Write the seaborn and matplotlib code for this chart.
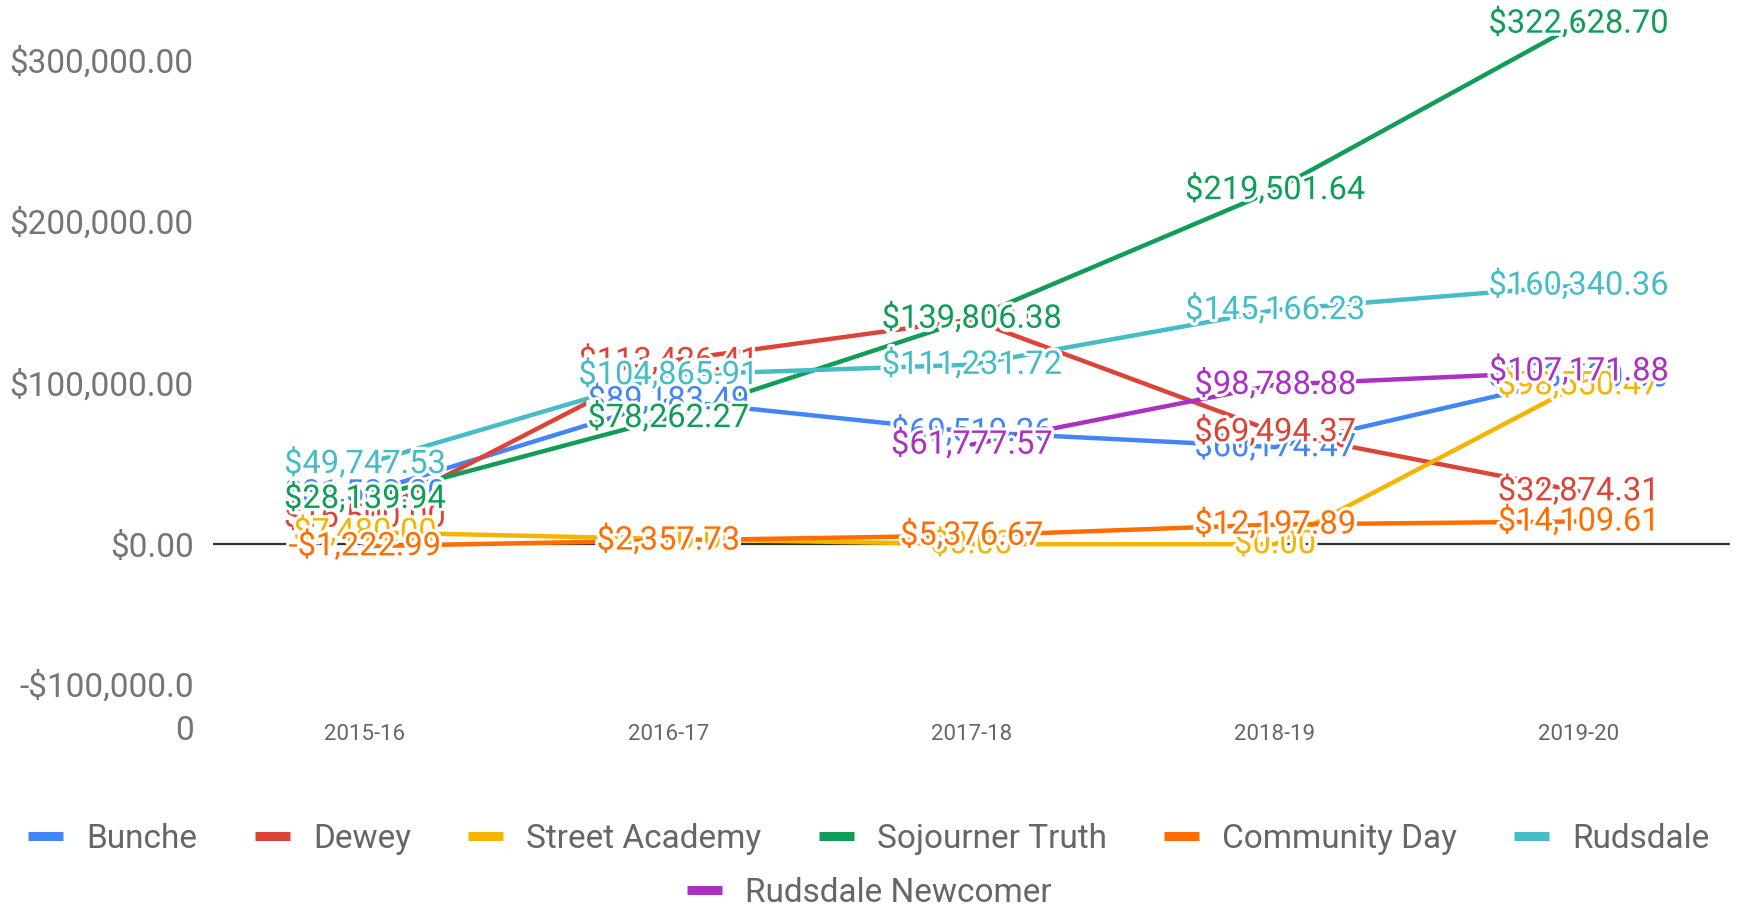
import matplotlib
matplotlib.use("Agg")
import matplotlib.pyplot as plt
import matplotlib.patheffects as pe
import matplotlib.transforms as mtransforms
from matplotlib.lines import Line2D
import numpy as np
import pandas as pd
import seaborn as sns

sns.set_theme(style="white")
plt.rcParams["font.family"] = ["Roboto", "DejaVu Sans"]

# chart data
years = ["2015-16", "2016-17", "2017-18", "2018-19", "2019-20"]
bunche = [31500.00, 89183.49, 69519.26, 60174.47, 103500.00]
dewey = [16500.00, 113426.41, 139200.00, 69494.37, 32874.31]
street_academy = [7480.00, 3200.00, 0.00, 0.00, 98550.47]
sojourner_truth = [28139.94, 78262.27, 139806.38, 219501.64, 322628.70]
community_day = [-1222.99, 2357.73, 5376.67, 12197.89, 14109.61]
rudsdale = [49747.53, 104865.91, 111231.72, 145166.23, 160340.36]
rudsdale_newcomer = [np.nan, np.nan, 61777.57, 98788.88, 107171.88]

schools = ["Bunche", "Dewey", "Street Academy", "Sojourner Truth",
           "Community Day", "Rudsdale", "Rudsdale Newcomer"]
series = [bunche, dewey, street_academy, sojourner_truth,
          community_day, rudsdale, rudsdale_newcomer]
colors = ["#4285F4", "#DB4437", "#F4B400", "#0F9D58",
          "#FF6D00", "#46BDC6", "#AB30C4"]

y_ticks = [-100000, 0, 100000, 200000, 300000]
y_ticklabels = ["-$100,000.0\n0", "$0.00", "$100,000.00",
                "$200,000.00", "$300,000.00"]


def money(v):
    s = f"${abs(v):,.2f}"
    return "-" + s if v < 0 else s


rows = []
for name, vals in zip(schools, series):
    for i, v in enumerate(vals):
        rows.append({"school": name, "year": years[i], "pos": i, "value": v})
df = pd.DataFrame(rows).dropna()

fig = plt.figure(figsize=(17.38, 9.06), dpi=100)
ax = fig.add_axes([0.1226, 0.2212, 0.8729, 0.7788])

palette = dict(zip(schools, colors))
sns.lineplot(data=df, x="pos", y="value", hue="school", hue_order=schools,
             palette=palette, estimator=None, sort=False, linewidth=3.2,
             legend=False, ax=ax)

ax.axhline(0, color="#333333", linewidth=1.6, zorder=1.5)

# data labels, centred on the points, later series on top
halo = [pe.withStroke(linewidth=4.5, foreground="white")]
for k, (name, vals) in enumerate(zip(schools, series)):
    for i, v in enumerate(vals):
        if np.isnan(v):
            continue
        ax.text(i, v, money(v), color=palette[name], fontsize=23.5,
                ha="center", va="center", path_effects=halo,
                zorder=5 + k, clip_on=False)

ax.set_xlim(-0.5, 4.5)
ax.set_ylim(-100000, 337200)
ax.set_xticks(range(len(years)), years)
ax.set_yticks(y_ticks, y_ticklabels)
ax.tick_params(axis="x", length=0, pad=13, labelsize=16, labelcolor="#666666")
ax.tick_params(axis="y", length=0, pad=14, labelsize=24, labelcolor="#757575")
for t in ax.get_yticklabels():
    t.set_multialignment("right")
    t.set_linespacing(1.45)
# the wrapped bottom label sits a little higher in the original
lab = ax.get_yticklabels()[0]
lab.set_transform(lab.get_transform()
                  + mtransforms.ScaledTranslation(0, 4 / 72, fig.dpi_scale_trans))
ax.set_xlabel("")
ax.set_ylabel("")
ax.grid(False)
for s in ax.spines.values():
    s.set_visible(False)

handles = [Line2D([0], [0], color=c, lw=6.5, solid_capstyle="butt")
           for c in colors]
leg_kw = dict(loc="center", frameon=False, fontsize=24, handlelength=1.05,
              handletextpad=0.7, columnspacing=1.71, labelcolor="#666666")
fig.legend(handles[:6], schools[:6], ncol=6,
           bbox_to_anchor=(0.5, 0.0738), **leg_kw)
fig.legend(handles[6:], schools[6:], ncol=1,
           bbox_to_anchor=(0.5, 0.0142), **leg_kw)

fig.savefig("out.png", dpi=100)
